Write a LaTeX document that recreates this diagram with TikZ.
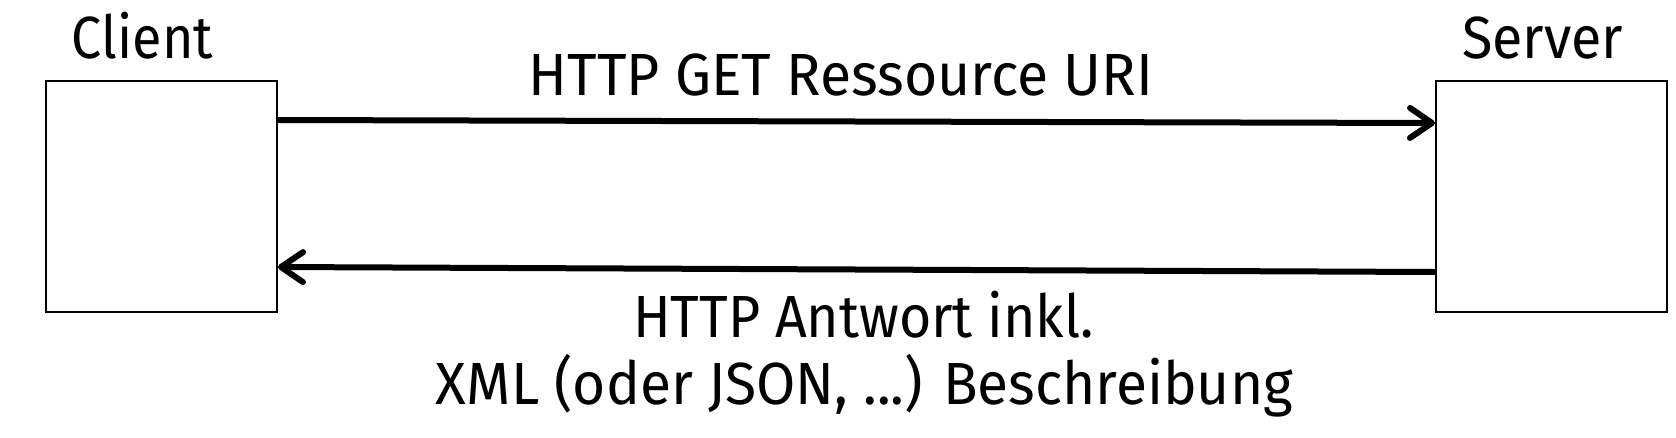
\documentclass[tikz,border=0pt]{standalone}
\usepackage{fontspec}
\setmainfont{Fira Sans}
\usepackage{graphicx}
\usetikzlibrary{arrows.meta}
\newcommand{\fitw}[2]{\resizebox{#1pt}{\height}{#2}}
\begin{document}
\begin{tikzpicture}[x=1pt,y=-1pt,
  box/.style={draw=black,line width=2pt,minimum width=231pt,minimum height=231pt,inner sep=0pt},
  lbl/.style={anchor=base,inner sep=0pt,font=\fontsize{59.5}{67}\selectfont},
  msg/.style={line width=6pt,-{Straight Barb[length=22pt,width=30pt,line width=6pt,line cap=round,line join=round]}}]
\useasboundingbox (0,0) rectangle (1676,437);
\node[box] (client) at (161.5,196.5) {};
\node[box] (server) at (1551.5,196.5) {};
\node[lbl] (clientlbl) at (142.5,58) {\fitw{141}{Client}};
\node[lbl] (serverlbl) at (1542.5,58) {\fitw{161}{Server}};
\node[lbl] (req) at (841,95) {\fitw{624}{HTTP GET Ressource URI}};
\node[lbl] (resp1) at (863.5,337) {\fitw{461}{HTTP Antwort inkl.}};
\node[lbl] (resp2) at (864.5,404) {\fitw{857}{XML (oder JSON, ...) Beschreibung}};
\draw[msg] ([yshift=76.5pt]client.east) -- ([yshift=73.5pt]server.west);
\draw[msg] ([yshift=-75.5pt]server.west) -- ([yshift=-70.5pt]client.east);
\end{tikzpicture}
\end{document}
